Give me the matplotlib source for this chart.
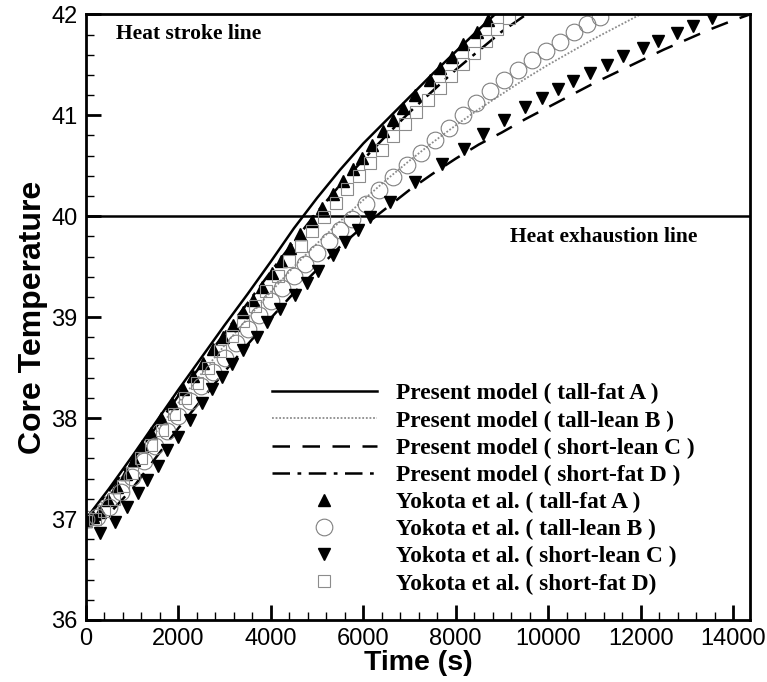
import numpy as np
import matplotlib
matplotlib.use("Agg")
import matplotlib.pyplot as plt
from matplotlib.ticker import MultipleLocator

# Present model curves (time in s, core temperature in C)
t_model_a = [0, 500, 1000, 1500, 2000, 2500, 3000, 3500, 4000, 4500, 5000, 5500,
             6000, 6500, 7000, 7500, 8000, 8500, 8850]
T_model_a = [37.0, 37.3, 37.62, 37.95, 38.28, 38.6, 38.92, 39.23, 39.55, 39.88, 40.18,
             40.46, 40.72, 40.95, 41.18, 41.41, 41.63, 41.85, 42.0]

t_model_b = [0, 500, 1000, 1500, 2000, 2500, 3000, 3500, 4000, 4500, 5000, 5500, 6000,
             6500, 7000, 7500, 8000, 8500, 9000, 9500, 10000, 10500, 11000, 11500, 12000]
T_model_b = [37.0, 37.25, 37.55, 37.85, 38.15, 38.44, 38.72, 38.99, 39.25, 39.5, 39.73,
             39.95, 40.16, 40.36, 40.55, 40.73, 40.9, 41.06, 41.21, 41.36, 41.5, 41.63,
             41.76, 41.88, 42.0]

t_model_c = [0, 500, 1000, 1500, 2000, 2500, 3000, 3500, 4000, 4500, 5000, 5500, 6000,
             6500, 7000, 7500, 8000, 8500, 9000, 9500, 10000, 10500, 11000, 11500, 12000,
             12500, 13000, 13500, 14000, 14370]
T_model_c = [37.0, 37.05, 37.3, 37.6, 37.9, 38.18, 38.46, 38.73, 38.99, 39.24, 39.47,
             39.7, 39.9, 40.08, 40.26, 40.42, 40.57, 40.71, 40.83, 40.96, 41.08, 41.2,
             41.32, 41.43, 41.54, 41.65, 41.75, 41.85, 41.94, 42.0]

t_model_d = [0, 500, 1000, 1500, 2000, 2500, 3000, 3500, 4000, 4500, 5000, 5500, 6000,
             6500, 7000, 7500, 8000, 8500, 9000, 9500]
T_model_d = [37.0, 37.28, 37.58, 37.9, 38.22, 38.53, 38.84, 39.14, 39.45, 39.75, 40.04,
             40.31, 40.56, 40.8, 41.03, 41.24, 41.45, 41.64, 41.83, 41.99]

# Yokota et al. data
t_yok_a = [0, 150, 313, 486, 681, 860, 1030, 1220, 1400, 1630, 1870, 2100, 2320, 2540,
           2760, 2970, 3190, 3400, 3620, 3816, 4030, 4210, 4420, 4640, 4900, 5100, 5350,
           5570, 5785, 5980, 6195, 6430, 6650, 6870, 7120, 7450, 7665, 7925, 8160, 8460,
           8700]
T_yok_a = [36.98, 37.02, 37.07, 37.19, 37.32, 37.45, 37.58, 37.72, 37.85, 38.0, 38.15,
           38.29, 38.42, 38.55, 38.68, 38.8, 38.92, 39.05, 39.17, 39.3, 39.44, 39.56,
           39.68, 39.82, 39.95, 40.08, 40.22, 40.35, 40.47, 40.58, 40.71, 40.84, 40.95,
           41.07, 41.2, 41.35, 41.47, 41.58, 41.71, 41.82, 41.94]

t_yok_b = [0, 250, 500, 750, 1000, 1250, 1500, 1750, 2000, 2250, 2500, 2750, 3000, 3250,
           3500, 3750, 4000, 4250, 4500, 4750, 5000, 5250, 5500, 5750, 6050, 6350, 6650,
           6950, 7250, 7550, 7850, 8150, 8450, 8750, 9050, 9350, 9650, 9950, 10250,
           10550, 10850, 11120]
T_yok_b = [37.0, 37.02, 37.12, 37.27, 37.42, 37.57, 37.72, 37.87, 38.02, 38.17, 38.32,
           38.46, 38.6, 38.74, 38.88, 39.02, 39.16, 39.29, 39.41, 39.53, 39.64, 39.75,
           39.86, 39.97, 40.12, 40.26, 40.39, 40.51, 40.63, 40.75, 40.87, 41.0, 41.12,
           41.24, 41.35, 41.45, 41.55, 41.64, 41.73, 41.82, 41.9, 41.97]

t_yok_c = [0, 313, 638, 897, 1135, 1330, 1567, 1762, 2000, 2259, 2519, 2735, 2951, 3167,
           3405, 3708, 3924, 4200, 4530, 4790, 5030, 5350, 5610, 5880, 6150, 6580, 7120,
           7710, 8170, 8600, 9050, 9500, 9870, 10220, 10540, 10910, 11270, 11630, 12060,
           12380, 12790, 13140, 13540]
T_yok_c = [36.98, 36.86, 36.97, 37.12, 37.26, 37.39, 37.53, 37.68, 37.81, 37.98, 38.15,
           38.29, 38.41, 38.54, 38.67, 38.8, 38.95, 39.08, 39.22, 39.34, 39.46, 39.62,
           39.74, 39.86, 39.99, 40.14, 40.34, 40.52, 40.67, 40.81, 40.95, 41.08, 41.17,
           41.26, 41.34, 41.42, 41.5, 41.59, 41.67, 41.74, 41.81, 41.88, 41.96]

t_yok_d = [0, 200, 400, 600, 800, 1000, 1200, 1400, 1650, 1900, 2150, 2400, 2650, 2900,
           3150, 3400, 3650, 3900, 4150, 4400, 4650, 4900, 5150, 5400, 5650, 5900, 6150,
           6400, 6650, 6900, 7150, 7400, 7650, 7900, 8150, 8400, 8650, 8900, 9150]
T_yok_d = [36.98, 37.0, 37.08, 37.2, 37.33, 37.46, 37.6, 37.73, 37.88, 38.04, 38.2, 38.35,
           38.5, 38.66, 38.81, 38.96, 39.11, 39.26, 39.41, 39.56, 39.7, 39.85, 39.99,
           40.13, 40.27, 40.4, 40.53, 40.66, 40.79, 40.91, 41.03, 41.15, 41.27, 41.39,
           41.51, 41.62, 41.74, 41.85, 41.96]

exhaustion_T = 40.0

plt.rcParams['font.family'] = ['Liberation Sans', 'DejaVu Sans']

fig = plt.figure(figsize=(7.67, 6.82), dpi=100)
ax = fig.add_axes([0.112, 0.091, 0.866, 0.888])

ax.axhline(exhaustion_T, color='black', lw=1.8, zorder=1)

ax.plot(t_model_a, T_model_a, color='black', lw=1.8, ls='-',
        label='Present model ( tall-fat A )')
ax.plot(t_model_b, T_model_b, color='#8c8c8c', lw=1.3, ls=(0, (1, 1)),
        label='Present model ( tall-lean B )')
ax.plot(t_model_c, T_model_c, color='black', lw=1.8, ls=(0, (7, 5)),
        label='Present model ( short-lean C )')
ax.plot(t_model_d, T_model_d, color='black', lw=1.8, ls=(0, (7, 3, 1.5, 3)),
        label='Present model ( short-fat D )')

ax.plot(t_yok_a, T_yok_a, ls='none', marker='^', ms=9, mfc='black', mec='black',
        label='Yokota et al. ( tall-fat A )')
ax.plot(t_yok_b, T_yok_b, ls='none', marker='o', ms=12, mfc='none', mec='#808080',
        mew=0.8, label='Yokota et al. ( tall-lean B )')
ax.plot(t_yok_c, T_yok_c, ls='none', marker='v', ms=9, mfc='black', mec='black',
        label='Yokota et al. ( short-lean C )')
ax.plot(t_yok_d, T_yok_d, ls='none', marker='s', ms=9, mfc='none', mec='#8c8c8c',
        mew=0.8, label='Yokota et al. ( short-fat D)')

ax.set_xlim(0, 14370)
ax.set_ylim(36, 42)
ax.xaxis.set_major_locator(MultipleLocator(2000))
ax.xaxis.set_minor_locator(MultipleLocator(400))
ax.yaxis.set_major_locator(MultipleLocator(1))
ax.yaxis.set_minor_locator(MultipleLocator(0.2))
ax.tick_params(which='major', direction='in', length=11, width=2, labelsize=17,
               top=False, right=False, pad=6)
ax.tick_params(which='minor', direction='in', length=5.5, width=1,
               top=False, right=False)
for s in ax.spines.values():
    s.set_linewidth(2)

ax.set_xlabel('Time (s)', fontsize=20.5, fontweight='bold', labelpad=0)
ax.set_ylabel('Core Temperature', fontsize=23, fontweight='bold', labelpad=2)

serif = dict(family='Liberation Serif', weight='bold', size=15.5)
ax.text(0.046, 0.968, 'Heat stroke line', transform=ax.transAxes, ha='left',
        va='center', **serif)
ax.text(0.78, 0.632, 'Heat exhaustion line', transform=ax.transAxes, ha='center',
        va='center', **serif)

ax.legend(loc='upper left', bbox_to_anchor=(0.28, 0.391), frameon=False,
          prop=dict(family='Liberation Serif', weight='bold', size=16.8),
          handlelength=4.5, handletextpad=0.8, labelspacing=0.25,
          borderpad=0, borderaxespad=0, numpoints=1)

fig.savefig('out.png', dpi=100)
